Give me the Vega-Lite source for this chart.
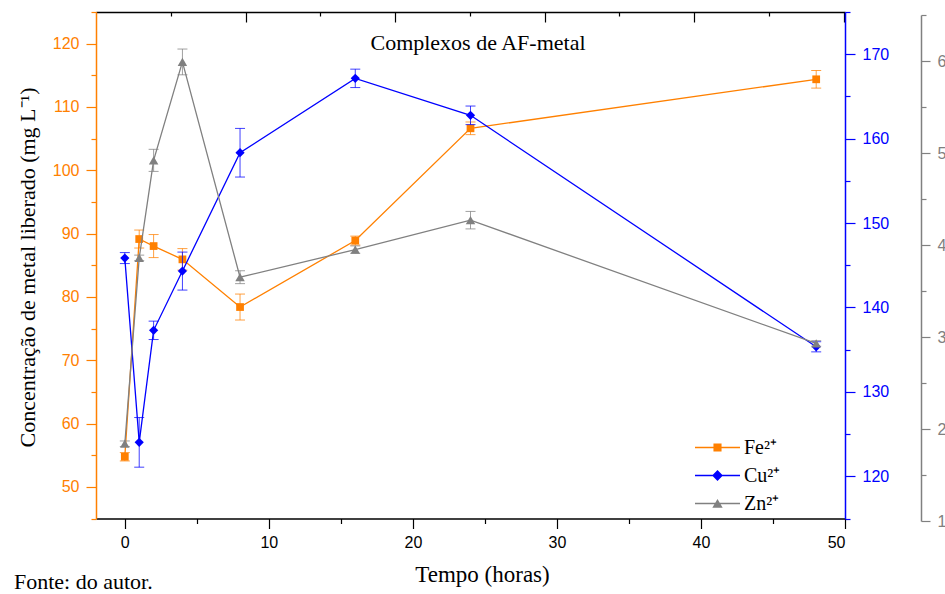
{
  "$schema": "https://vega.github.io/schema/vega-lite/v6.json",
  "width": 749,
  "height": 506.5,
  "autosize": {"type": "none"},
  "padding": {"left": 96, "top": 12, "right": 100, "bottom": 75.5},
  "background": "white",
  "title": {"text": "Fonte: do autor.", "orient": "bottom", "anchor": "start", "frame": "bounds", "offset": -15, "dx": -2, "font": "Liberation Serif", "fontSize": 22, "fontWeight": "normal", "color": "black"},
  "config": {
    "view": {"stroke": null},
    "axis": {"grid": false, "labelFont": "Liberation Sans", "labelFontSize": 16, "titleFont": "Liberation Serif", "titleFontWeight": "normal", "titleColor": "black"}
  },
  "data": {"values": [
    {"metal": "Fe", "t": 0, "value": 54.75, "err": 0.66},
    {"metal": "Fe", "t": 1, "value": 89.14, "err": 1.42},
    {"metal": "Fe", "t": 2, "value": 88.03, "err": 1.82},
    {"metal": "Fe", "t": 4, "value": 85.93, "err": 1.7},
    {"metal": "Fe", "t": 8, "value": 78.4, "err": 2.05},
    {"metal": "Fe", "t": 16, "value": 88.9, "err": 0.7},
    {"metal": "Fe", "t": 24, "value": 106.63, "err": 1.0},
    {"metal": "Fe", "t": 48, "value": 114.37, "err": 1.39},
    {"metal": "Cu", "t": 0, "value": 145.85, "err": 0.65},
    {"metal": "Cu", "t": 1, "value": 124.02, "err": 2.94},
    {"metal": "Cu", "t": 2, "value": 137.29, "err": 1.09},
    {"metal": "Cu", "t": 4, "value": 144.31, "err": 2.25},
    {"metal": "Cu", "t": 8, "value": 158.33, "err": 2.88},
    {"metal": "Cu", "t": 16, "value": 167.14, "err": 1.09},
    {"metal": "Cu", "t": 24, "value": 162.76, "err": 1.1},
    {"metal": "Cu", "t": 48, "value": 135.34, "err": 0.6},
    {"metal": "Zn", "t": 0, "value": 1.84, "err": 0.03},
    {"metal": "Zn", "t": 1, "value": 3.86, "err": 0.03},
    {"metal": "Zn", "t": 2, "value": 4.92, "err": 0.12},
    {"metal": "Zn", "t": 4, "value": 5.99, "err": 0.14},
    {"metal": "Zn", "t": 8, "value": 3.65, "err": 0.07},
    {"metal": "Zn", "t": 16, "value": 3.95, "err": 0.04},
    {"metal": "Zn", "t": 24, "value": 4.27, "err": 0.095},
    {"metal": "Zn", "t": 48, "value": 2.93, "err": 0.03}
  ]},
  "layer": [
    {
      "transform": [{"filter": "datum.metal === 'Fe'"}],
      "layer": [
        {
          "mark": {"type": "errorbar", "ticks": {"size": 10}, "color": "#ff8000", "opacity": 0.75},
          "encoding": {
            "x": {"field": "t", "type": "quantitative", "scale": {"domain": [-2, 50], "nice": false, "zero": false}, "axis": null},
            "y": {"field": "value", "type": "quantitative", "scale": {"domain": [45, 125], "nice": false, "zero": false}, "axis": null},
            "yError": {"field": "err"}
          }
        },
        {
          "mark": {"type": "line", "strokeWidth": 1.3, "color": "#ff8000"},
          "encoding": {
            "x": {"field": "t", "type": "quantitative", "scale": {"domain": [-2, 50], "nice": false, "zero": false},
              "axis": {"orient": "bottom", "values": [5, 15, 25, 35, 45], "tickSize": 5, "labels": false, "domain": false, "title": null, "tickColor": "black", "tickWidth": 1.2}},
            "y": {"field": "value", "type": "quantitative", "scale": {"domain": [45, 125], "nice": false, "zero": false},
              "axis": {"orient": "left", "values": [45, 55, 65, 75, 85, 95, 105, 115, 125], "tickSize": 5, "labels": false, "domain": false, "title": null, "tickColor": "#ff8000", "tickWidth": 1.2}}
          }
        },
        {
          "mark": {"type": "point", "filled": true, "opacity": 0, "size": 10},
          "encoding": {
            "x": {"field": "t", "type": "quantitative", "scale": {"domain": [-2, 50], "nice": false, "zero": false}, "axis": null},
            "y": {"field": "value", "type": "quantitative", "scale": {"domain": [45, 125], "nice": false, "zero": false}, "axis": null},
            "color": {"field": "metal", "type": "nominal",
              "scale": {"domain": ["Fe", "Cu", "Zn"], "range": ["#ff8000", "#0000ff", "#808080"]},
              "legend": {
                "orient": "none", "legendX": 599, "legendY": 422, "title": null, "padding": 0,
                "labelFont": "Liberation Serif", "labelFontSize": 20, "labelColor": "black", "labelOffset": 4,
                "rowPadding": 1, "clipHeight": 27, "symbolSize": 2025, "symbolOpacity": 1, "symbolStrokeWidth": 0,
                "labelExpr": "datum.label + '²⁺'"
              }},
            "shape": {"field": "metal", "type": "nominal",
              "scale": {"domain": ["Fe", "Cu", "Zn"], "range": [
                "M-1,-0.03H1V0.03H-1ZM-0.18,-0.18H0.18V0.18H-0.18Z",
                "M-1,-0.03H1V0.03H-1ZM-0.24,0L0,-0.24L0.24,0L0,0.24Z",
                "M-1,-0.03H1V0.03H-1ZM0,-0.2L0.23,0.19L-0.23,0.19Z"
              ]},
              "legend": {
                "orient": "none", "legendX": 599, "legendY": 422, "title": null, "padding": 0,
                "labelFont": "Liberation Serif", "labelFontSize": 20, "labelColor": "black", "labelOffset": 4,
                "rowPadding": 1, "clipHeight": 27, "symbolSize": 2025, "symbolOpacity": 1, "symbolStrokeWidth": 0,
                "labelExpr": "datum.label + '²⁺'"
              }}
          }
        },
        {
          "mark": {"type": "point", "shape": "square", "filled": true, "size": 60, "color": "#ff8000", "opacity": 1},
          "encoding": {
            "x": {"field": "t", "type": "quantitative", "scale": {"domain": [-2, 50], "nice": false, "zero": false},
              "axis": {"orient": "bottom", "values": [0, 10, 20, 30, 40, 50], "tickSize": 10, "tickWidth": 1.2, "tickColor": "black", "domainColor": "black", "domainWidth": 1.5, "labelColor": "black", "labelPadding": 6,
                "title": "Tempo (horas)", "titleFontSize": 23, "titleX": 386, "titleY": 63, "titleAlign": "center", "titleBaseline": "alphabetic"}},
            "y": {"field": "value", "type": "quantitative", "scale": {"domain": [45, 125], "nice": false, "zero": false},
              "axis": {"orient": "left", "values": [50, 60, 70, 80, 90, 100, 110, 120], "tickSize": 10, "tickWidth": 1.2, "tickColor": "#ff8000", "domainColor": "#ff8000", "domainWidth": 1.5, "labelColor": "#ff8000", "labelPadding": 7,
                "title": "Concentração de metal liberado (mg L⁻¹)", "titleFontSize": 22, "titleAngle": 270, "titleX": -62, "titleY": 255, "titleAlign": "center", "titleBaseline": "alphabetic"}}
          }
        }
      ],
      "resolve": {"axis": {"x": "independent", "y": "independent"}}
    },
    {
      "transform": [{"filter": "datum.metal === 'Cu'"}],
      "layer": [
        {
          "mark": {"type": "errorbar", "ticks": {"size": 10}, "color": "#0000ff", "opacity": 0.75},
          "encoding": {
            "x": {"field": "t", "type": "quantitative", "scale": {"domain": [-2, 50], "nice": false, "zero": false}, "axis": null},
            "y": {"field": "value", "type": "quantitative", "scale": {"domain": [115, 175], "nice": false, "zero": false}, "axis": null},
            "yError": {"field": "err"}
          }
        },
        {
          "mark": {"type": "line", "strokeWidth": 1.3, "color": "#0000ff"},
          "encoding": {
            "x": {"field": "t", "type": "quantitative", "scale": {"domain": [-2, 50], "nice": false, "zero": false},
              "axis": {"orient": "top", "values": [3.19, 13.57, 23.95, 34.33, 44.71], "tickSize": -4, "labels": false, "domain": false, "title": null, "tickColor": "black", "tickWidth": 1.2}},
            "y": {"field": "value", "type": "quantitative", "scale": {"domain": [115, 175], "nice": false, "zero": false},
              "axis": {"orient": "right", "values": [115, 125, 135, 145, 155, 165, 175], "tickSize": 5, "labels": false, "domain": false, "title": null, "tickColor": "#0000ff", "tickWidth": 1.2}}
          }
        },
        {
          "mark": {"type": "point", "shape": "diamond", "filled": true, "size": 85, "color": "#0000ff", "opacity": 1},
          "encoding": {
            "x": {"field": "t", "type": "quantitative", "scale": {"domain": [-2, 50], "nice": false, "zero": false},
              "axis": {"orient": "top", "values": [8.38, 18.76, 29.14, 39.52, 49.9], "tickSize": -10, "tickWidth": 1.2, "tickColor": "black", "labels": false, "domainColor": "black", "domainWidth": 1.5,
                "title": "Complexos de AF-metal", "titleFontSize": 22, "titleX": 381.5, "titleY": 37, "titleAlign": "center", "titleBaseline": "alphabetic"}},
            "y": {"field": "value", "type": "quantitative", "scale": {"domain": [115, 175], "nice": false, "zero": false},
              "axis": {"orient": "right", "values": [120, 130, 140, 150, 160, 170], "tickSize": 10, "tickWidth": 1.2, "tickColor": "#0000ff", "domainColor": "#0000ff", "domainWidth": 1.5, "labelColor": "#0000ff", "labelPadding": 7, "title": null}}
          }
        }
      ],
      "resolve": {"axis": {"x": "independent", "y": "independent"}}
    },
    {
      "transform": [{"filter": "datum.metal === 'Zn'"}],
      "layer": [
        {
          "mark": {"type": "errorbar", "ticks": {"size": 10}, "color": "#808080", "opacity": 0.75},
          "encoding": {
            "x": {"field": "t", "type": "quantitative", "scale": {"domain": [-2, 50], "nice": false, "zero": false}, "axis": null},
            "y": {"field": "value", "type": "quantitative", "scale": {"domain": [1, 6.5], "range": [509, 3], "nice": false, "zero": false}, "axis": null},
            "yError": {"field": "err"}
          }
        },
        {
          "mark": {"type": "line", "strokeWidth": 1.3, "color": "#808080"},
          "encoding": {
            "x": {"field": "t", "type": "quantitative", "scale": {"domain": [-2, 50], "nice": false, "zero": false}, "axis": null},
            "y": {"field": "value", "type": "quantitative", "scale": {"domain": [1, 6.5], "range": [509, 3], "nice": false, "zero": false},
              "axis": {"orient": "right", "offset": 76, "values": [1.5, 2.5, 3.5, 4.5, 5.5, 6.5], "tickSize": 5, "labels": false, "domain": false, "title": null, "tickColor": "#808080", "tickWidth": 1.2}}
          }
        },
        {
          "mark": {"type": "point", "shape": "triangle-up", "filled": true, "size": 90, "color": "#808080", "opacity": 1},
          "encoding": {
            "x": {"field": "t", "type": "quantitative", "scale": {"domain": [-2, 50], "nice": false, "zero": false}, "axis": null},
            "y": {"field": "value", "type": "quantitative", "scale": {"domain": [1, 6.5], "range": [509, 3], "nice": false, "zero": false},
              "axis": {"orient": "right", "offset": 76, "values": [1, 2, 3, 4, 5, 6], "tickSize": 9, "tickWidth": 1.2, "tickColor": "#808080", "domainColor": "#808080", "domainWidth": 1.5, "labelColor": "#808080", "labelPadding": 7, "title": null}}
          }
        }
      ],
      "resolve": {"axis": {"y": "independent"}}
    }
  ],
  "resolve": {"scale": {"y": "independent"}, "axis": {"x": "independent", "y": "independent"}}
}
